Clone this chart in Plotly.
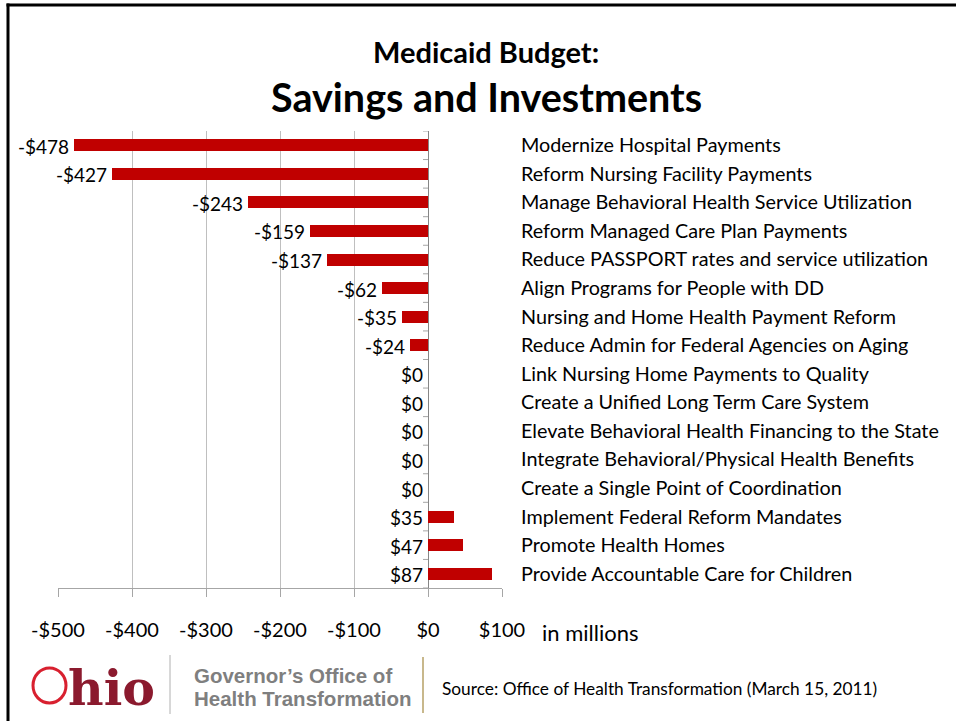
import plotly.graph_objects as go

# Budget items (in millions of dollars), top to bottom
categories = [
    "Modernize Hospital Payments",
    "Reform Nursing Facility Payments",
    "Manage Behavioral Health Service Utilization",
    "Reform Managed Care Plan Payments",
    "Reduce PASSPORT rates and service utilization",
    "Align Programs for People with DD",
    "Nursing and Home Health Payment Reform",
    "Reduce Admin for Federal Agencies on Aging",
    "Link Nursing Home Payments to Quality",
    "Create a Unified Long Term Care System",
    "Elevate Behavioral Health Financing to the State",
    "Integrate Behavioral/Physical Health Benefits",
    "Create a Single Point of Coordination",
    "Implement Federal Reform Mandates",
    "Promote Health Homes",
    "Provide Accountable Care for Children",
]
values = [-478, -427, -243, -159, -137, -62, -35, -24, 0, 0, 0, 0, 0, 35, 47, 87]

x_tick_values = [-500, -400, -300, -200, -100, 0, 100]
x_tick_labels = ["-$500", "-$400", "-$300", "-$200", "-$100", "$0", "$100"]

W, H = 956, 721
BODY = "Lato, 'Open Sans', sans-serif"
BAR_RED = "#C00000"


def px(x):
    return x / W


def py(y):
    return 1 - y / H


def money(v):
    return ("-$%d" % -v) if v < 0 else ("$%d" % v)


positions = list(range(len(categories)))

fig = go.Figure()
fig.add_trace(go.Bar(
    x=values,
    y=positions,
    orientation="h",
    marker=dict(color=BAR_RED, line=dict(width=0)),
    width=0.42,
    hoverinfo="skip",
))

annotations = []
# value labels sit just left of the bar's low end (or the zero line)
for pos, v in zip(positions, values):
    annotations.append(dict(
        x=min(0, v), y=pos, xref="x", yref="y",
        text=money(v), showarrow=False,
        xanchor="right", yanchor="middle", xshift=-3, yshift=-1,
        font=dict(family=BODY, size=19, color="#000000"),
    ))

# titles
annotations.append(dict(
    x=px(486), y=py(52), xref="paper", yref="paper",
    text="<b>Medicaid Budget:</b>", showarrow=False,
    xanchor="center", yanchor="middle",
    font=dict(family=BODY, size=29, color="#000000"),
))
annotations.append(dict(
    x=px(486), y=py(97), xref="paper", yref="paper",
    text="<b>Savings and Investments</b>", showarrow=False,
    xanchor="center", yanchor="middle",
    font=dict(family=BODY, size=39.5, color="#000000"),
))

# unit note next to the axis labels
annotations.append(dict(
    x=px(540), y=py(632), xref="paper", yref="paper",
    text="in millions", showarrow=False,
    xanchor="left", yanchor="middle",
    font=dict(family=BODY, size=22, color="#000000"),
))

# footer: Ohio logo and source
annotations.append(dict(
    x=px(66), y=py(688), xref="paper", yref="paper",
    text="hio", showarrow=False,
    xanchor="left", yanchor="middle",
    font=dict(family="DejaVu Serif", size=49, color="#8B1A2E", weight="bold"),
))
annotations.append(dict(
    x=px(192), y=py(675), xref="paper", yref="paper",
    text="<b>Governor’s Office of</b>", showarrow=False,
    xanchor="left", yanchor="middle",
    font=dict(family="Liberation Sans", size=20.5, color="#7F7F7F"),
))
annotations.append(dict(
    x=px(192), y=py(698), xref="paper", yref="paper",
    text="<b>Health Transformation</b>", showarrow=False,
    xanchor="left", yanchor="middle",
    font=dict(family="Liberation Sans", size=20.5, color="#7F7F7F"),
))
annotations.append(dict(
    x=px(440), y=py(688), xref="paper", yref="paper",
    text="Source: Office of Health Transformation (March 15, 2011)", showarrow=False,
    xanchor="left", yanchor="middle",
    font=dict(family=BODY, size=17.3, color="#000000"),
))

shapes = []
# slide frame (top and left edges) as thin filled bands
shapes.append(dict(type="rect", xref="paper", yref="paper",
                   x0=px(6.5), x1=px(956), y0=py(3.5), y1=py(6.5),
                   fillcolor="#000000", line=dict(width=0)))
shapes.append(dict(type="rect", xref="paper", yref="paper",
                   x0=px(6.5), x1=px(9.5), y0=py(3.5), y1=py(721),
                   fillcolor="#000000", line=dict(width=0)))
# category tick marks on the zero line
for i in range(len(categories) + 1):
    shapes.append(dict(type="line", xref="x", yref="y",
                       xsizemode="pixel", xanchor=0, x0=-5, x1=0,
                       y0=i - 0.5, y1=i - 0.5,
                       line=dict(color="#A6A6A6", width=1)))
# logo ring
shapes.append(dict(type="circle", xref="paper", yref="paper",
                   x0=px(33), x1=px(66), y0=py(668), y1=py(703),
                   line=dict(color="#D8202F", width=3)))
# separators
shapes.append(dict(type="line", xref="paper", yref="paper",
                   x0=px(170), x1=px(170), y0=py(655), y1=py(714),
                   line=dict(color="#B0B0B0", width=1)))
shapes.append(dict(type="line", xref="paper", yref="paper",
                   x0=px(423), x1=px(423), y0=py(657), y1=py(713),
                   line=dict(color="#C8B88C", width=2)))

fig.update_layout(
    width=W, height=H, autosize=False,
    margin=dict(l=0, r=0, t=0, b=0, pad=0),
    paper_bgcolor="#FFFFFF", plot_bgcolor="#FFFFFF",
    showlegend=False,
    bargap=0,
    annotations=annotations,
    shapes=shapes,
    xaxis=dict(
        domain=[px(58), px(502)],
        range=[-500, 100],
        tickvals=x_tick_values, ticktext=x_tick_labels,
        showgrid=True, gridcolor="#BFBFBF", gridwidth=1,
        zeroline=True, zerolinecolor="#868686", zerolinewidth=1,
        showline=True, linecolor="#A6A6A6", linewidth=1,
        ticks="outside", ticklen=8, tickcolor="#A6A6A6",
        ticklabelstandoff=16,
        tickfont=dict(family=BODY, size=20, color="#000000"),
        automargin=False,
        fixedrange=True,
    ),
    yaxis=dict(
        domain=[py(588), py(131)],
        range=[len(categories) - 0.5, -0.5],
        tickvals=positions, ticktext=categories,
        side="right",
        showgrid=False, zeroline=False, showline=False,
        ticks="", ticklabelstandoff=18,
        tickfont=dict(family=BODY, size=19.8, color="#000000"),
        automargin=False,
        fixedrange=True,
    ),
)

fig.write_html("out.html", config={"displayModeBar": False})
